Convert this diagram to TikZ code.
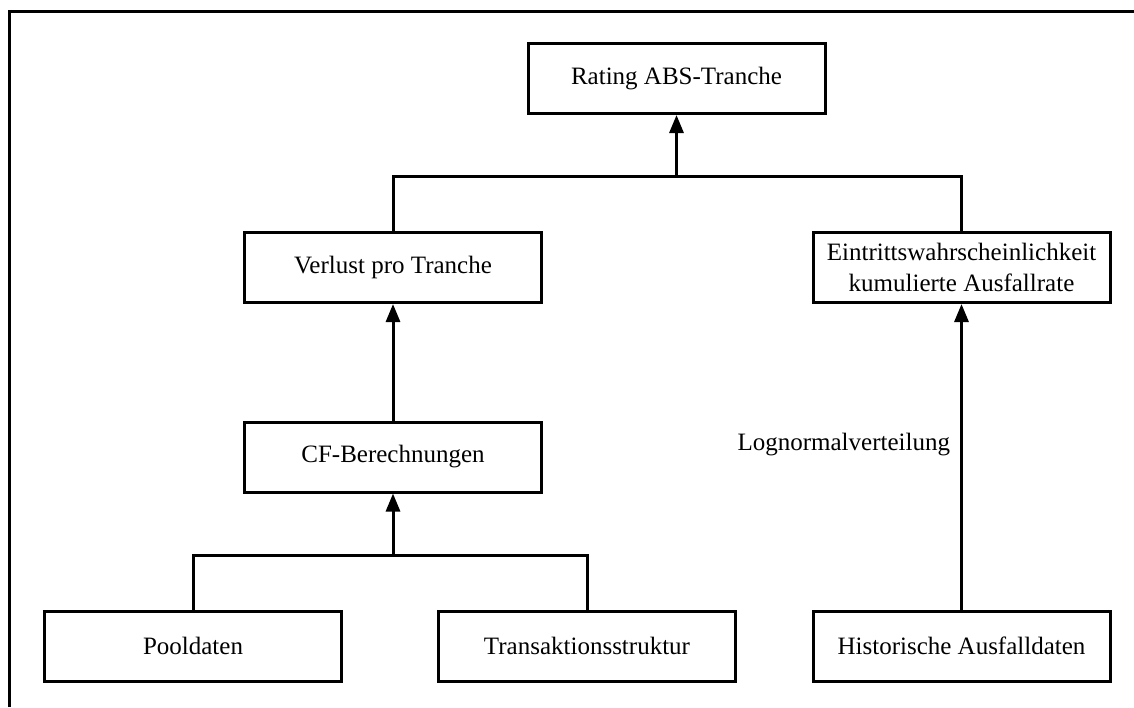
\documentclass[tikz,border=0pt]{standalone}
\usepackage{fontspec}
\setmainfont{Liberation Serif}
\usetikzlibrary{arrows.meta}
\begin{document}
\begin{tikzpicture}[x=1pt,y=-1pt,
  box/.style={draw, line width=3pt, minimum width=297pt, minimum height=70pt,
    inner sep=0pt, align=center, font=\fontsize{25}{31}\selectfont},
  link/.style={line width=3pt},
  arr/.style={link, -{Triangle[width=14pt,length=18pt]}},
  lbl/.style={inner sep=0pt, font=\fontsize{25}{31}\selectfont}]
  \useasboundingbox (0,0) rectangle (1134,707);
  % outer frame (top and left edges only)
  \draw[line width=3pt] (9.5,707) -- (9.5,11) -- (1134,11);

  % boxes
  \node[box] (rating) at (676.5,78.5) {Rating ABS-Tranche};
  \node[box] (verlust) at (393,267.5) {Verlust pro Tranche};
  \node[box] (eintritt) at (961.5,267.5) {Eintrittswahrscheinlichkeit\\kumulierte Ausfallrate};
  \node[box] (cf) at (393,457) {CF-Berechnungen};
  \node[box] (pool) at (193,646) {Pooldaten};
  \node[box] (trans) at (587,646) {Transaktionsstruktur};
  \node[box] (hist) at (961.5,646) {Historische Ausfalldaten};

  % junctions
  \coordinate (j1) at (rating.south |- 0,176);
  \coordinate (j2) at (cf.south |- 0,555);

  % connectors
  \draw[link] (verlust.north) |- (j1) -| (eintritt.north);
  \draw[arr] (j1) -- (rating.south);
  \draw[arr] (cf.north) -- (verlust.south);
  \draw[link] (pool.north) |- (j2) -| (trans.north);
  \draw[arr] (j2) -- (cf.south);
  \draw[arr] (hist.north) -- (eintritt.south)
    node[lbl, pos=0.54, anchor=east, xshift=-10pt] (lognorm) {Lognormalverteilung};
\end{tikzpicture}
\end{document}
